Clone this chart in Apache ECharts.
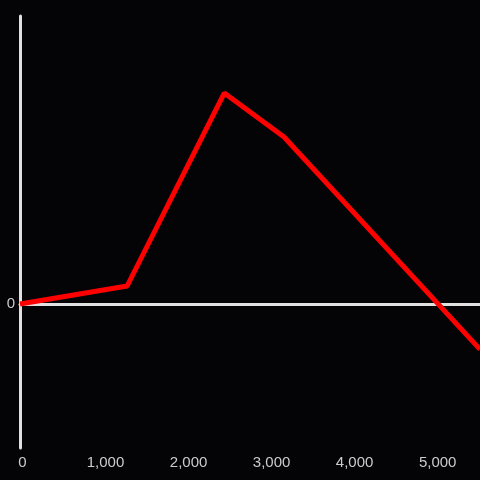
<!DOCTYPE html>
<html><head><meta charset="utf-8">
<script src="https://cdn.jsdelivr.net/npm/echarts@6/dist/echarts.min.js"></script>
<style>html,body{margin:0;padding:0;background:#040306}#c{width:480px;height:480px}</style>
</head><body><div id="c"></div>
<script>
const xValues = [0, 1290, 2460, 3180, 5540];
const yValues = [0, 12.5, 146.5, 116, -31.5];
const xTicks = [0, 1000, 2000, 3000, 4000, 5000];

const chart = echarts.init(document.getElementById('c'));
chart.setOption({
  backgroundColor: '#040306',
  animation: false,
  grid: {left: 20, right: 0, top: 16, bottom: 32},
  xAxis: [{
    type: 'value', min: 0, max: 5540, interval: 1000,
    axisLine: {show: false, onZero: false}, axisTick: {show: false}, splitLine: {show: false},
    axisLabel: {color: '#cccccc', fontSize: 15, fontFamily: 'Liberation Sans', margin: 7,
      padding: [0, 0, 0, 5],
      formatter: v => xTicks.includes(v) ? v.toLocaleString('en-US') : '', showMaxLabel: false}
  }, {
    type: 'value', min: 0, max: 5540, position: 'bottom',
    axisLine: {show: true, onZero: true, lineStyle: {color: '#e0e0e0', width: 3}},
    axisTick: {show: false}, axisLabel: {show: false}, splitLine: {show: false}
  }],
  yAxis: {
    type: 'value', min: -100, max: 200, interval: 100,
    axisLine: {show: true, onZero: false, lineStyle: {color: '#e0e0e0', width: 3}},
    axisTick: {show: false}, splitLine: {show: false},
    axisLabel: {color: '#cccccc', fontSize: 15, fontFamily: 'Liberation Sans', margin: 5,
      formatter: v => v === 0 ? '0' : ''}
  },
  series: [{
    type: 'line', xAxisIndex: 0,
    data: xValues.map((x, i) => [x, yValues[i]]),
    showSymbol: false, symbol: 'none',
    lineStyle: {color: '#ff0000', width: 5}
  }]
});
</script></body></html>
